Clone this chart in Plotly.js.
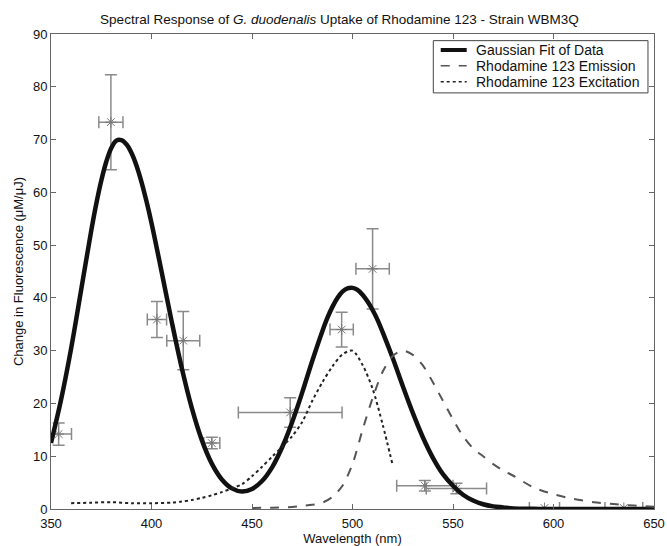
<!DOCTYPE html>
<html>
<head>
<meta charset="utf-8">
<script src="https://cdn.plot.ly/plotly-3.0.1.min.js"></script>
<style>html,body{margin:0;padding:0;background:#fff;}#chart{width:667px;height:546px;}</style>
</head>
<body>
<div id="chart"></div>
<script>
// Measured data points (wavelength nm, change in fluorescence)
const dataWl      = [353.8, 379.8, 402.7, 415.8, 430.0, 469.0, 494.6, 510.0, 536.0, 551.7, 595.5, 635.0];
const dataVal     = [14.2, 73.3, 35.9, 31.9, 12.5, 18.3, 34.0, 45.5, 4.4, 3.9, 0.2, 0.2];
const dataValErr  = [2.1, 9.0, 3.4, 5.5, 1.1, 2.8, 3.3, 7.6, 1.0, 1.0, 0.0, 0.0];
const dataWlErr   = [6.4, 6.0, 4.8, 8.2, 4.0, 25.8, 5.8, 8.3, 14.0, 15.0, 7.5, 9.4];

// Gaussian fit of data
const fitWl  = [350, 355, 360, 365, 370, 372.5, 375, 377.5, 380, 382.5, 385, 387.5, 390, 392.5, 395, 397.5, 400, 405, 410, 415, 420, 425, 430, 435, 440, 445, 450, 455, 460, 465, 470, 475, 480, 485, 487.5, 490, 492.5, 495, 497.5, 500, 502.5, 505, 507.5, 510, 512.5, 515, 520, 525, 530, 535, 540, 545, 550, 555, 560, 565, 570, 575, 580, 590, 600, 650];
const fitVal = [12.5, 20.7, 30.4, 41.5, 52.7, 57.8, 62.2, 65.8, 68.4, 69.8, 69.9, 69.1, 67.5, 65.1, 62.0, 58.3, 54.2, 45.0, 35.6, 26.8, 19.2, 13.1, 8.6, 5.6, 3.9, 3.3, 3.8, 5.3, 7.9, 11.7, 16.5, 22.1, 28.1, 33.7, 36.2, 38.3, 40.0, 41.2, 41.8, 41.9, 41.5, 40.6, 39.3, 37.7, 35.8, 33.5, 28.6, 23.3, 18.2, 13.6, 9.7, 6.6, 4.4, 2.7, 1.6, 0.9, 0.5, 0.3, 0.1, 0.03, 0, 0];

// Rhodamine 123 emission spectrum
const emWl  = [450, 460, 470, 475, 480, 485, 490, 495, 500, 505, 510, 515, 520, 525, 530, 535, 540, 545, 550, 555, 560, 565, 570, 575, 580, 590, 600, 610, 620, 630, 640, 650];
const emVal = [0.2, 0.25, 0.4, 0.6, 0.8, 1.2, 2.3, 4.4, 8.5, 15.0, 21.0, 26.0, 29.0, 30.0, 29.2, 27.2, 24.0, 20.5, 17.0, 13.8, 11.5, 10.0, 8.5, 7.3, 6.3, 4.1, 2.8, 1.9, 1.3, 0.95, 0.65, 0.45];

// Rhodamine 123 excitation spectrum
const exWl  = [360, 370, 380, 390, 400, 410, 415, 420, 425, 430, 435, 440, 445, 450, 455, 460, 465, 470, 475, 480, 485, 490, 495, 500, 505, 510, 515, 520];
const exVal = [1.1, 1.2, 1.3, 1.1, 1.1, 1.2, 1.4, 1.7, 2.1, 2.6, 3.2, 3.9, 4.7, 6.2, 8.0, 9.9, 11.8, 13.8, 16.5, 20.5, 24.0, 27.0, 29.3, 30.0, 27.3, 22.8, 16.0, 8.3];

const xTicks = [350, 400, 450, 500, 550, 600, 650];
const yTicks = [0, 10, 20, 30, 40, 50, 60, 70, 80, 90];

const seriesNames = ['Gaussian Fit of Data', 'Rhodamine 123 Emission', 'Rhodamine 123 Excitation'];
const seriesStyles = [
  {color: '#111', width: 4.5, dash: 'solid'},
  {color: '#555', width: 2, dash: 'dash'},
  {color: '#222', width: 2, dash: 'dot'}
];

const traces = [
  {
    x: dataWl, y: dataVal, type: 'scatter', mode: 'markers', showlegend: false,
    marker: {symbol: 'asterisk-open', size: 9, color: '#777', line: {color: '#777', width: 1}},
    error_y: {type: 'data', array: dataValErr, visible: true, color: '#8a8a8a', thickness: 1.5, width: 6},
    error_x: {type: 'data', array: dataWlErr, visible: true, color: '#8a8a8a', thickness: 1.5, width: 6}
  },
  {
    x: fitWl, y: fitVal, type: 'scatter', mode: 'lines', name: seriesNames[0], showlegend: false,
    line: Object.assign({shape: 'spline', smoothing: 1}, seriesStyles[0])
  },
  {
    x: emWl, y: emVal, type: 'scatter', mode: 'lines', name: seriesNames[1], showlegend: false,
    line: Object.assign({shape: 'spline', smoothing: 0.8}, seriesStyles[1])
  },
  {
    x: exWl, y: exVal, type: 'scatter', mode: 'lines', name: seriesNames[2], showlegend: false,
    line: Object.assign({shape: 'spline', smoothing: 0.8}, seriesStyles[2])
  }
];

// Legend box (drawn in paper coordinates, matching the compact row spacing of the original)
const legX0 = 0.634, legX1 = 0.990, legY0 = 0.876, legY1 = 0.986;
const legLineX0 = 0.6463, legLineX1 = 0.6894, legTextX = 0.7015;
const legRows = [0.9663, 0.9333, 0.8996];

const shapes = [{
  type: 'rect', xref: 'paper', yref: 'paper', x0: legX0, x1: legX1, y0: legY0, y1: legY1,
  line: {color: '#444', width: 1}, fillcolor: '#fff', layer: 'above'
}];
const annotations = [];
legRows.forEach((ry, i) => {
  shapes.push({
    type: 'line', xref: 'paper', yref: 'paper', x0: legLineX0, x1: legLineX1, y0: ry, y1: ry,
    line: {color: seriesStyles[i].color, width: i === 0 ? 4 : 1.5, dash: seriesStyles[i].dash}, layer: 'above'
  });
  annotations.push({
    xref: 'paper', yref: 'paper', x: legTextX, y: ry, xanchor: 'left', yanchor: 'middle',
    text: seriesNames[i], showarrow: false, font: {size: 14, color: '#111'}
  });
});

const layout = {
  width: 667, height: 546,
  margin: {l: 51, r: 13, t: 34, b: 37},
  paper_bgcolor: '#fff', plot_bgcolor: '#fff',
  font: {family: 'Liberation Sans, Arial, sans-serif', size: 12, color: '#111'},
  title: {
    text: 'Spectral Response of <i>G. duodenalis</i> Uptake of Rhodamine 123 - Strain WBM3Q',
    font: {size: 13.5, color: '#111'}, x: 0.509, xanchor: 'center', y: 0.965, yanchor: 'middle'
  },
  xaxis: {
    range: [350, 650], tickvals: xTicks, ticktext: xTicks.map(String),
    ticks: 'inside', ticklen: 5, tickcolor: '#666', mirror: 'ticks',
    showline: true, linecolor: '#666', linewidth: 1, showgrid: false, zeroline: false,
    ticklabelstandoff: 2,
    tickfont: {size: 13}, title: {text: 'Wavelength (nm)', font: {size: 13}, standoff: 2}
  },
  yaxis: {
    range: [0, 90], tickvals: yTicks, ticktext: yTicks.map(String),
    ticks: 'inside', ticklen: 5, tickcolor: '#666', mirror: 'ticks',
    showline: true, linecolor: '#666', linewidth: 1, showgrid: false, zeroline: false,
    tickfont: {size: 13}, title: {text: 'Change in Fluorescence (μM/μJ)', font: {size: 13}, standoff: 6}
  },
  shapes: shapes,
  annotations: annotations,
  showlegend: false
};

Plotly.newPlot('chart', traces, layout, {staticPlot: true, displayModeBar: false});
</script>
</body>
</html>
